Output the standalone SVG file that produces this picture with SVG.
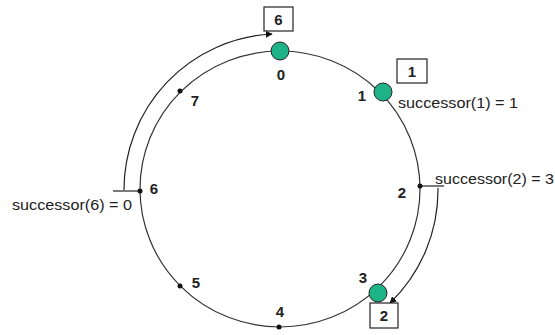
<svg xmlns="http://www.w3.org/2000/svg" width="555" height="335" viewBox="0 0 555 335">
<style>
.ring{fill:none;stroke:#333;stroke-width:1.2}
.conn{fill:none;stroke:#222;stroke-width:1.2}
.peer{fill:#1db386;stroke:#222;stroke-width:1}
.dot{fill:#111}
.lbl{font-family:"Liberation Sans",Arial,sans-serif;font-size:15px;font-weight:bold;fill:#222;text-anchor:middle}
.txt{font-family:"Liberation Sans",Arial,sans-serif;font-size:14px;fill:#222}
.box{fill:#fff;stroke:#222;stroke-width:1.2}
</style>
<defs>
<marker id="ah" viewBox="0 0 10 10" refX="9" refY="5" markerWidth="7" markerHeight="7" orient="auto" markerUnits="userSpaceOnUse">
<path d="M0,0 L10,5 L0,10 z" fill="#111"/>
</marker>
</defs>
<ellipse class="ring" cx="280" cy="189" rx="140" ry="138"/>
<g id="connectors">
<path class="conn" d="M124,190 A156,156 0 0 1 272,34" marker-end="url(#ah)"/>
<path class="conn" d="M438,188 A157,157 0 0 1 390,303" marker-end="url(#ah)"/>
<line class="conn" x1="113" y1="191" x2="140" y2="191"/>
<line class="conn" x1="420" y1="186" x2="444" y2="186"/>
</g>
<g id="n0"><circle class="peer" cx="280" cy="51" r="9"/><text class="lbl" x="281" y="80">0</text></g>
<g id="n1"><circle class="peer" cx="383" cy="92" r="9"/><text class="lbl" x="362" y="101">1</text></g>
<g id="n2"><circle class="dot" cx="420" cy="186" r="2.5"/><text class="lbl" x="402" y="198">2</text></g>
<g id="n3"><circle class="peer" cx="378" cy="293" r="9"/><text class="lbl" x="363" y="283">3</text></g>
<g id="n4"><circle class="dot" cx="279" cy="327" r="2.5"/><text class="lbl" x="280" y="317">4</text></g>
<g id="n5"><circle class="dot" cx="180" cy="286" r="2.5"/><text class="lbl" x="196" y="288">5</text></g>
<g id="n6"><circle class="dot" cx="140" cy="191" r="2.5"/><text class="lbl" x="154" y="194">6</text></g>
<g id="n7"><circle class="dot" cx="180" cy="91" r="2.5"/><text class="lbl" x="195" y="106">7</text></g>
<g id="key6"><rect class="box" x="264" y="7" width="29" height="24"/><text class="lbl" x="278.5" y="25">6</text></g>
<g id="key1"><rect class="box" x="397" y="59" width="30" height="24"/><text class="lbl" x="412" y="77">1</text></g>
<g id="key2"><rect class="box" x="370" y="303" width="28" height="25"/><text class="lbl" x="384" y="321">2</text></g>
<text class="txt" x="398" y="108" textLength="120" lengthAdjust="spacingAndGlyphs">successor(1) = 1</text>
<text class="txt" x="435" y="184" textLength="119" lengthAdjust="spacingAndGlyphs">successor(2) = 3</text>
<text class="txt" x="12" y="210" textLength="120" lengthAdjust="spacingAndGlyphs">successor(6) = 0</text>
</svg>
